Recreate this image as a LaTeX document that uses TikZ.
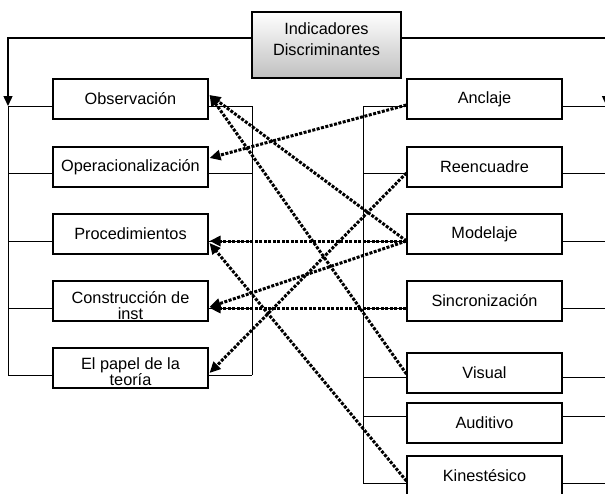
\documentclass[tikz,border=0pt]{standalone}
\usepackage{fontspec}
\setmainfont{Liberation Sans}
\usetikzlibrary{arrows.meta,calc}
\begin{document}
\begin{tikzpicture}[x=1pt,y=-1pt,
  box/.style={draw=black,line width=1.1pt,fill=white,minimum width=155pt,minimum height=40pt,inner sep=0pt,font=\fontsize{16.3}{17}\selectfont,align=center},
  txt/.style={inner sep=0pt,font=\fontsize{16.3}{16}\selectfont,align=center},
  ln/.style={draw=black,line width=0.9pt},
  trunk/.style={draw=black,line width=1.4pt},
  tip/.style={-{Triangle[length=10pt,width=9pt]}},
  dotarrow/.style={draw=black,line width=3pt,dash pattern=on 3pt off 1.5pt,-{Triangle[length=11pt,width=10pt]}},
]
\useasboundingbox (0,0) rectangle (605,493);

% title box
\node[box,minimum width=149pt,minimum height=66pt,top color=white,bottom color=black!25,line width=1.9pt] (top) at (326.5,45) {};
\node[txt] (topt) at (326.5,39) {Indicadores\\[5pt]Discriminantes};

% left column
\node[box] (obs) at (130.5,99) {Observación};
\node[box] (oper) at (130.5,167) {Operacionalización};
\node[box] (proc) at (130.5,234) {Procedimientos};
\node[box] (cons) at (130.5,301) {};
\node[txt] (const) at (130.5,306) {Construcción de\\inst};
\node[box] (pap) at (130.5,368) {};
\node[txt] (papt) at (130.5,372) {El papel de la\\teoría};

% right column
\node[box] (anc) at (484.5,99) {Anclaje};
\node[box] (reen) at (484.5,167) {Reencuadre};
\node[box] (mod) at (484.5,234) {Modelaje};
\node[box] (sinc) at (484.5,301) {Sincronización};
\node[box] (vis) at (484.5,373) {Visual};
\node[box] (aud) at (484.5,423) {Auditivo};
\node[box] (kin) at (484.5,476) {Kinestésico};

% trunk coordinates
\coordinate (LT) at (8,38);
\coordinate (LA) at (8,106);
\coordinate (LB) at (8,375);
\coordinate (MT) at (252,106);
\coordinate (MB) at (252,375);
\coordinate (RT) at (363,106);
\coordinate (RB) at (363,483);
\coordinate (ET) at (606.5,38);
\coordinate (EA) at (606.5,106);

% top connectors
\draw[trunk,tip] ($(top.west)+(0,-7)$) -- (LT) -- (LA);
\draw[trunk,tip] ($(top.east)+(0,-7)$) -- (ET) -- (EA);

% left column structure
\draw[ln] (LA) -- (LB);
\draw[ln] (MT) -- (MB);
\foreach \n/\y in {obs/106,oper/173,proc/241,cons/308,pap/375}{
  \draw[ln] (LA |- 0,\y) -- (\n.west |- 0,\y);
  \draw[ln] (\n.east |- 0,\y) -- (MT |- 0,\y);
}

% right column structure
\draw[ln] (RT) -- (RB);
\foreach \n/\y in {anc/106,reen/173,mod/241,sinc/308,vis/377,aud/416,kin/483}{
  \draw[ln] (RT |- 0,\y) -- (\n.west |- 0,\y);
  \draw[ln] (\n.east |- 0,\y) -- (EA |- 0,\y);
}

% dotted relations
\draw[dotarrow] ($(anc.west)+(0,6)$) -- ($(oper.east)+(1,-9)$);
\draw[dotarrow] ($(mod.west)+(0,7)$) -- ($(obs.east)+(1,-4)$);
\draw[dotarrow] ($(vis.west)+(0,1)$) -- ($(obs.east)+(1,-4)$);
\draw[dotarrow] ($(mod.west)+(0,7)$) -- ($(proc.east)+(1,7)$);
\draw[dotarrow] ($(kin.west)+(0,5)$) -- ($(proc.east)+(1,9)$);
\draw[dotarrow] ($(mod.west)+(0,7)$) -- ($(cons.east)+(1,6)$);
\draw[dotarrow] ($(sinc.west)+(0,7)$) -- ($(cons.east)+(1,7)$);
\draw[dotarrow] ($(reen.west)+(0,6)$) -- ($(pap.east)+(1,5)$);
\end{tikzpicture}
\end{document}
